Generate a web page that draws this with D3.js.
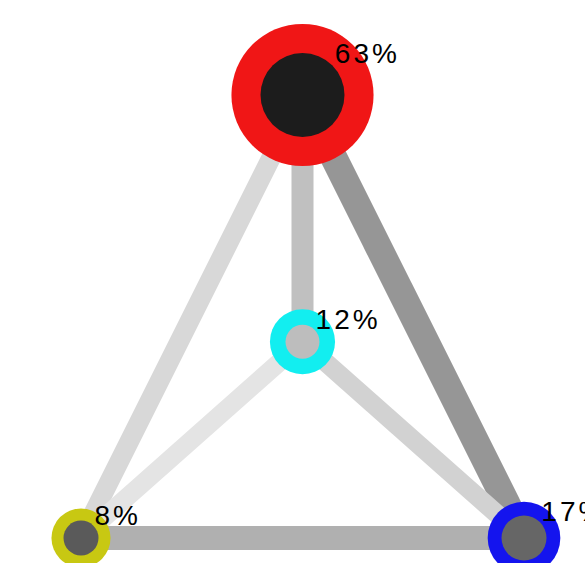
<!DOCTYPE html>
<html>
<head>
<meta charset="utf-8">
<script src="https://cdn.jsdelivr.net/npm/d3@7"></script>
<style>
  body { margin: 0; background: #fff; }
  svg { display: block; }
  .label { font-family: "Liberation Sans", Arial, sans-serif; font-size: 28px; letter-spacing: 3px; fill: #000; }
</style>
</head>
<body>
<div id="chart"></div>
<script>
// nodes
var nodeIds = ['top', 'center', 'left', 'right']
var nodeShare = [63, 12, 8, 17]
var nodeInner = [8.4, 3.4, 3.5, 4.5]
var nodeLayoutX = [0.5, 0.5, 0, 1]
var nodeLayoutY = [0, 0.557, 1, 1]
var ringColors = ['#f01616', '#12eef0', '#c8c812', '#1414ee']
var coreColors = ['#1c1c1c', '#bdbdbd', '#5a5a5a', '#666666']

// links
var linkSource = ['top', 'top', 'top', 'center', 'center', 'left']
var linkTarget = ['left', 'center', 'right', 'left', 'right', 'right']
var linkWeight = [0.39, 0.44, 0.54, 0.37, 0.38, 0.48]
var linkColors = ['#d8d8d8', '#c0c0c0', '#969696', '#e4e4e4', '#d2d2d2', '#b0b0b0']

var width = 585
var height = 563

var xScale = d3.scaleLinear().domain([0, 1]).range([81, 524])
var yScale = d3.scaleLinear().domain([0, 1]).range([95, 538])
var outerScale = d3.scaleLinear().domain([0, 100]).range([23.5, 99])
var innerScale = d3.scaleLinear().domain([0, 1]).range([0, 5])
var widthScale = d3.scaleLinear().domain([0, 1]).range([0, 50])

var nodes = nodeIds.map(function(id, i) {
  return {
    id: id,
    share: nodeShare[i],
    inner: nodeInner[i],
    x: xScale(nodeLayoutX[i]),
    y: yScale(nodeLayoutY[i]),
    ring: ringColors[i],
    core: coreColors[i]
  }
})
var byId = {}
nodes.forEach(function(n) { byId[n.id] = n })

var links = linkSource.map(function(s, i) {
  return { source: byId[s], target: byId[linkTarget[i]], weight: linkWeight[i], color: linkColors[i] }
})

var svg = d3.select('#chart')
  .append('svg')
  .attr('width', width)
  .attr('height', height)

svg.append('g')
  .attr('class', 'links')
  .selectAll('line')
  .data(links)
  .enter().append('line')
  .attr('x1', d => d.source.x)
  .attr('y1', d => d.source.y)
  .attr('x2', d => d.target.x)
  .attr('y2', d => d.target.y)
  .attr('stroke', d => d.color)
  .attr('stroke-width', d => widthScale(d.weight))

var node = svg.append('g')
  .attr('class', 'nodes')
  .selectAll('g')
  .data(nodes)
  .enter().append('g')
  .attr('transform', d => 'translate(' + d.x + ',' + d.y + ')')

node.append('circle')
  .attr('r', d => outerScale(d.share))
  .attr('fill', d => d.ring)

node.append('circle')
  .attr('r', d => innerScale(d.inner))
  .attr('fill', d => d.core)

node.append('text')
  .attr('class', 'label')
  .attr('x', d => innerScale(d.inner) * 0.77)
  .attr('y', d => -innerScale(d.inner) * 0.77)
  .text(d => d.share + '%')
</script>
</body>
</html>
